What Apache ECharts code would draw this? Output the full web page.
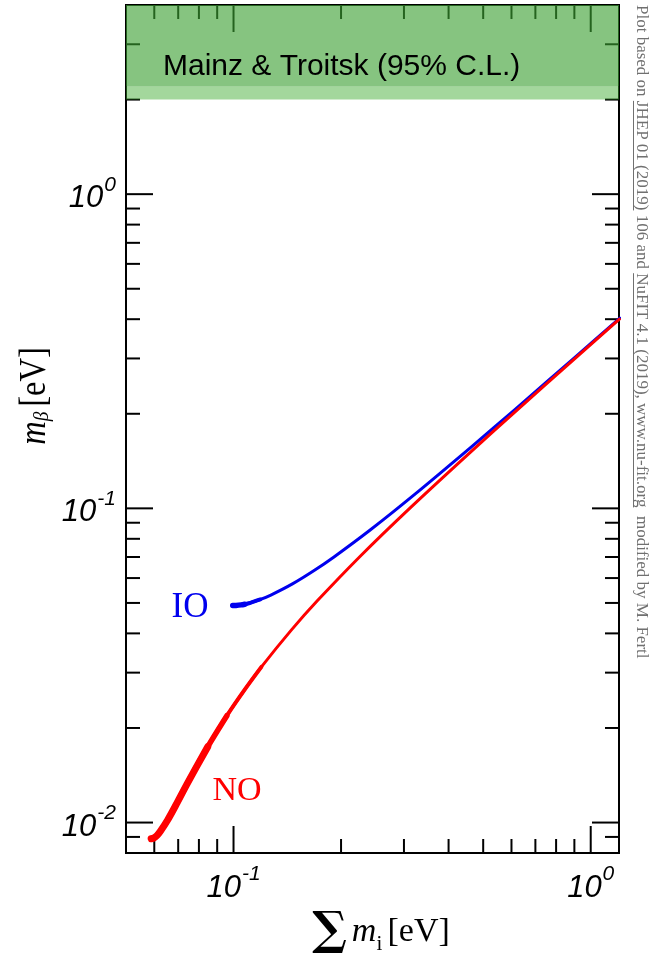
<!DOCTYPE html>
<html>
<head>
<meta charset="utf-8">
<script src="https://cdn.jsdelivr.net/npm/echarts@6/dist/echarts.min.js"></script>
<style>
  html, body { margin: 0; padding: 0; background: #ffffff; }
  #chart { width: 650px; height: 956px; }
</style>
</head>
<body>
<div id="chart"></div>
<script>
// Axis extents (eV)
const xRange = [0.05, 1.2];
const yRange = [0.008, 4];

// Tick values
const xMajor = [0.1, 1];
const xMinor = [0.06, 0.07, 0.08, 0.09, 0.2, 0.3, 0.4, 0.5, 0.6, 0.7, 0.8, 0.9];
const yMajor = [0.01, 0.1, 1];
const yMinor = [0.009, 0.02, 0.03, 0.04, 0.05, 0.06, 0.07, 0.08, 0.09,
                0.2, 0.3, 0.4, 0.5, 0.6, 0.7, 0.8, 0.9, 2, 3];

// Normal ordering: sum of masses vs effective beta-decay mass
const noSum = [0.0588, 0.0599, 0.0611, 0.0624, 0.0654, 0.0688, 0.0744, 0.0847, 0.0958, 0.1076,
               0.1197, 0.1451, 0.1716, 0.2267, 0.3123, 0.4584, 0.6064, 0.9043, 1.2032];
const noMb  = [0.00888, 0.00894, 0.00910, 0.00938, 0.01019, 0.01131, 0.01338, 0.01743, 0.02188, 0.02653,
               0.03129, 0.04097, 0.05078, 0.07056, 0.10039, 0.15026, 0.2002, 0.30013, 0.4001];

// Inverted ordering
const ioSum = [0.0995, 0.1016, 0.1050, 0.1075, 0.1115, 0.1189, 0.1272, 0.1462, 0.1677, 0.1911,
               0.2418, 0.3234, 0.4661, 0.6122, 0.9082, 1.2062];
const ioMb  = [0.04905, 0.04909, 0.04930, 0.04954, 0.05005, 0.05129, 0.05297, 0.05749, 0.06329, 0.07004,
               0.08547, 0.11138, 0.15782, 0.20593, 0.30398, 0.40298];

// Excluded region from Mainz & Troitsk: [lower, upper] in eV
const limitLight = [2.0, 2.2];
const limitDark = [2.2, 4];

const zip = (a, b) => a.map((v, i) => [v, b[i]]);

const chart = echarts.init(document.getElementById('chart'), null, { renderer: 'canvas' });

const tickStyle = { stroke: '#000', lineWidth: 2 };

function xTicks(values, len) {
  return {
    type: 'custom', coordinateSystem: 'cartesian2d', z: 3, silent: true, clip: false,
    data: values.map(v => [v, yRange[0]]),
    renderItem(params, api) {
      const v = api.value(0);
      const b = api.coord([v, yRange[0]]);
      const t = api.coord([v, yRange[1]]);
      return { type: 'group', children: [
        { type: 'line', shape: { x1: b[0], y1: b[1], x2: b[0], y2: b[1] - len }, style: tickStyle },
        { type: 'line', shape: { x1: t[0], y1: t[1], x2: t[0], y2: t[1] + len }, style: tickStyle }
      ] };
    }
  };
}

function yTicks(values, len) {
  return {
    type: 'custom', coordinateSystem: 'cartesian2d', z: 3, silent: true, clip: false,
    data: values.map(v => [xRange[0], v]),
    renderItem(params, api) {
      const v = api.value(1);
      const l = api.coord([xRange[0], v]);
      const r = api.coord([xRange[1], v]);
      return { type: 'group', children: [
        { type: 'line', shape: { x1: l[0], y1: l[1], x2: l[0] + len, y2: l[1] }, style: tickStyle },
        { type: 'line', shape: { x1: r[0], y1: r[1], x2: r[0] - len, y2: r[1] }, style: tickStyle }
      ] };
    }
  };
}

function band(range, color) {
  return {
    type: 'custom', coordinateSystem: 'cartesian2d', z: 6, silent: true, clip: true,
    data: [[xRange[0], range[0], xRange[1], range[1]]],
    renderItem(params, api) {
      const p0 = api.coord([api.value(0), api.value(1)]);
      const p1 = api.coord([api.value(2), api.value(3)]);
      return { type: 'rect',
        shape: { x: p0[0], y: p1[1], width: p1[0] - p0[0], height: p0[1] - p1[1] },
        style: { fill: color } };
    }
  };
}

// Curve drawn as a line; width tapers along its first points
function curve(sum, mb, from, to, color, width, z) {
  return { type: 'line', data: zip(sum.slice(from, to), mb.slice(from, to)),
           showSymbol: false, symbol: 'none', smooth: 0.3, z: z, silent: true,
           lineStyle: { color: color, width: width, cap: 'round', join: 'round' } };
}

const isPow10 = v => Math.abs(Math.log10(v) - Math.round(Math.log10(v))) < 1e-6;
const powLabel = v => isPow10(v) ? '{b|10}{s|' + Math.round(Math.log10(v)) + '}' : '';
const labelRich = {
  b: { fontFamily: 'Liberation Sans', fontStyle: 'italic', fontSize: 31, color: '#000',
       lineHeight: 40, verticalAlign: 'bottom' },
  s: { fontFamily: 'Liberation Sans', fontStyle: 'italic', fontSize: 21, color: '#000',
       verticalAlign: 'top', padding: [0, 0, 0, 1] }
};

// Side note with linked references underlined
const noteText = 'Plot based on JHEP 01 (2019) 106 and NuFIT 4.1 (2019), www.nu-fit.org  modified by M. Fertl';
const noteFont = 'Liberation Serif';
const noteSize = 17;
const noteX = 641, noteY = 5;
const noteLinks = ['JHEP 01 (2019)', 'NuFIT 4.1 (2019), www.nu-fit.org'];
const measureCtx = document.createElement('canvas').getContext('2d');
measureCtx.font = noteSize + 'px "' + noteFont + '"';
const underlines = noteLinks.map(s => {
  const i = noteText.indexOf(s);
  const a = noteY + measureCtx.measureText(noteText.slice(0, i)).width;
  const w = measureCtx.measureText(s).width;
  return { type: 'line', shape: { x1: noteX - 7.5, y1: a, x2: noteX - 7.5, y2: a + w },
           style: { stroke: '#707070', lineWidth: 1 }, silent: true };
});

const option = {
  animation: false,
  backgroundColor: '#ffffff',
  grid: { left: 126, right: 31, top: 5, bottom: 103, show: true,
          borderColor: '#000', borderWidth: 2, backgroundColor: 'transparent' },
  xAxis: {
    type: 'log', logBase: 10, min: xRange[0], max: xRange[1],
    axisLine: { show: false }, axisTick: { show: false }, splitLine: { show: false },
    axisLabel: { margin: 11, formatter: powLabel, rich: labelRich, showMinLabel: true, showMaxLabel: true }
  },
  yAxis: {
    type: 'log', logBase: 10, min: yRange[0], max: yRange[1],
    axisLine: { show: false }, axisTick: { show: false }, splitLine: { show: false },
    axisLabel: { margin: 10, formatter: powLabel, rich: labelRich }
  },
  series: [
    xTicks(xMajor, 27), xTicks(xMinor, 14),
    yTicks(yMajor, 27), yTicks(yMinor, 14),
    band(limitLight, 'rgba(60,170,45,0.47)'),
    band(limitDark, 'rgba(60,160,50,0.62)'),
    curve(ioSum, ioMb, 0, ioSum.length, '#0000ee', 3, 4),
    curve(ioSum, ioMb, 0, 4, '#0000ee', 5.5, 4),
    curve(ioSum, ioMb, 0, 6, '#0000ee', 4, 4),
    curve(noSum, noMb, 0, noSum.length, '#ff0000', 3, 5),
    curve(noSum, noMb, 0, 8, '#ff0000', 7, 5),
    curve(noSum, noMb, 0, 9, '#ff0000', 5.5, 5),
    curve(noSum, noMb, 0, 11, '#ff0000', 4, 5)
  ],
  graphic: [
    { type: 'text', left: 163, top: 52, z: 10, silent: true,
      style: { text: 'Mainz & Troitsk (95% C.L.)', fontFamily: 'Liberation Sans', fontSize: 30, fill: '#000' } },
    { type: 'text', x: 190, y: 608, z: 10, silent: true,
      style: { text: 'IO', fontFamily: 'Liberation Serif', fontSize: 35, fill: '#0000ee', align: 'center', verticalAlign: 'middle' } },
    { type: 'text', x: 237, y: 791, z: 10, silent: true,
      style: { text: 'NO', fontFamily: 'Liberation Serif', fontSize: 34, fill: '#ff0000', align: 'center', verticalAlign: 'middle' } },
    { type: 'text', x: 381, y: 932, z: 10, silent: true,
      style: { text: '{s|∑}{m|m}{i|i }{u|[eV]}', align: 'center', verticalAlign: 'middle',
        rich: {
          s: { fontFamily: 'DejaVu Serif', fontWeight: 'bold', fontSize: 46, fill: '#000',
               verticalAlign: 'middle', padding: [0, 5, 0, 0] },
          m: { fontFamily: 'Liberation Serif', fontStyle: 'italic', fontSize: 34, fill: '#000' },
          i: { fontFamily: 'Liberation Serif', fontSize: 21, fill: '#000', verticalAlign: 'bottom' },
          u: { fontFamily: 'Liberation Serif', fontSize: 34, fill: '#000' }
        } } },
    { type: 'text', x: 35, y: 396, rotation: Math.PI / 2, scaleX: 0.88, z: 10, silent: true,
      style: { text: '{m|m}{b|β }{u|[eV]}', align: 'center', verticalAlign: 'middle',
        rich: {
          m: { fontFamily: 'Liberation Serif', fontStyle: 'italic', fontSize: 37, fill: '#000' },
          b: { fontFamily: 'Liberation Serif', fontStyle: 'italic', fontSize: 22, fill: '#000', verticalAlign: 'bottom' },
          u: { fontFamily: 'Liberation Serif', fontSize: 37, fill: '#000' }
        } } },
    { type: 'text', x: noteX, y: noteY, rotation: -Math.PI / 2, z: 10, silent: true,
      style: { text: noteText, fontFamily: noteFont, fontSize: noteSize, fill: '#707070',
               align: 'left', verticalAlign: 'middle' } },
    ...underlines
  ]
};

chart.setOption(option);
</script>
</body>
</html>
